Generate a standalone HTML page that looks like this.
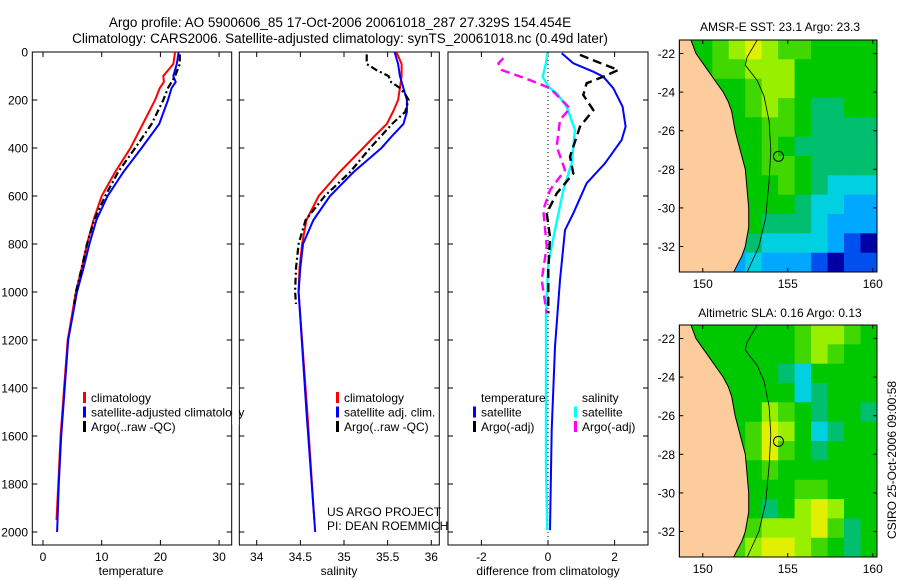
<!DOCTYPE html>
<html><head><meta charset="utf-8"><style>
body{margin:0;background:#fff;}
svg{display:block;font-family:"Liberation Sans",sans-serif;}
</style></head><body>
<svg id="fig" width="900" height="580" viewBox="0 0 900 580">
<text x="340" y="27" font-size="13.5" text-anchor="middle">Argo profile: AO 5900606_85 17-Oct-2006 20061018_287 27.329S 154.454E</text>
<text x="340" y="43" font-size="13.5" text-anchor="middle">Climatology: CARS2006. Satellite-adjusted climatology: synTS_20061018.nc (0.49d later)</text>
<text x="131" y="575" font-size="12" text-anchor="middle">temperature</text>
<text x="339" y="575" font-size="12" text-anchor="middle">salinity</text>
<text x="548" y="575" font-size="12" text-anchor="middle">difference from climatology</text>
<text x="327" y="516" font-size="12">US ARGO PROJECT</text>
<text x="327" y="530" font-size="12">PI: DEAN ROEMMICH</text>
<text x="780" y="31" font-size="12" text-anchor="middle">AMSR-E SST: 23.1 Argo: 23.3</text>
<text x="780" y="317" font-size="12" text-anchor="middle">Altimetric SLA: 0.16 Argo: 0.13</text>
<text x="0" y="0" font-size="12" text-anchor="middle" transform="translate(896,460) rotate(-90)">CSIRO 25-Oct-2006 09:00:58</text>
</svg>
<script>
// ---------- profile data ----------
const depthClim = [0,50,100,125,150,200,300,400,500,600,700,800,900,1000,1200,1400,1600,1800,1950];
const tempClim  = [22.5,22.2,20.5,20.6,19.9,19.1,17.0,14.9,12.3,10.0,8.6,7.5,6.6,5.6,4.2,3.6,3.0,2.6,2.3];
const depthSat  = [0,50,100,125,150,200,300,400,500,600,700,800,900,1000,1200,1400,1600,1800,2000];
const tempSat   = [23.1,22.8,22.2,22.6,21.9,21.3,19.8,16.8,13.7,11.0,9.1,7.9,6.9,5.8,4.3,3.7,3.1,2.7,2.4];
const depthArgo = [10,50,100,150,200,300,400,500,600,700,800,900,1000,1050];
const tempArgo  = [23.3,23.3,22.5,21.3,20.5,18.5,15.7,12.8,10.6,8.7,7.5,6.6,5.6,5.3];

const depthSalClim = [0,50,100,150,200,250,300,350,400,500,600,700,800,900,1000,1500,1950];
const salClim   = [35.60,35.66,35.66,35.64,35.62,35.56,35.49,35.35,35.22,34.95,34.71,34.57,34.52,34.49,34.48,34.58,34.66];
const depthSalSat = [0,50,100,150,200,250,300,350,400,500,600,700,800,900,1000,1500,2000];
const salSat    = [35.58,35.62,35.64,35.68,35.72,35.72,35.68,35.55,35.43,35.11,34.84,34.65,34.53,34.50,34.48,34.57,34.67];
const depthSalArgo = [10,50,75,100,125,150,175,200,250,300,400,500,600,700,800,900,1000,1050];
const salArgo   = [35.26,35.26,35.37,35.51,35.54,35.64,35.70,35.74,35.70,35.55,35.30,35.07,34.78,34.56,34.48,34.45,34.44,34.45];

const depthDT = [5,47,82,103,151,228,311,367,464,547,672,742,950,1228,1575,1992];
const diffTempSat = [0.41,0.76,1.36,1.66,1.96,2.24,2.33,2.21,1.71,1.16,0.76,0.51,0.36,0.21,0.11,0.06];
const depthDS = [5,47,103,144,172,228,325,464,575,742,880,1089,1714,1992];
const diffSalSat = [-0.02,-0.06,-0.16,0.01,0.26,0.56,0.81,0.71,0.46,0.21,0.01,-0.06,-0.06,-0.02];
const depthDTA = [12,40,75,103,130,179,242,311,436,506,589,672,769,908,1089];
const diffTempArgo = [0.96,1.46,2.11,1.66,1.16,1.06,1.36,0.96,0.66,0.76,0.26,-0.04,0.06,0.01,0.01];
const depthDSA = [26,47,75,117,151,235,283,394,492,575,658,811,950,1089];
const diffSalArgo = [-1.34,-1.49,-1.39,-0.54,0.06,0.66,0.36,0.26,0.51,0.06,-0.14,-0.04,-0.19,-0.04];

const depthTicks = [0,200,400,600,800,1000,1200,1400,1600,1800,2000];
const tempTicks = [0,10,20,30];
const salTicks = [34,34.5,35,35.5,36];
const diffTicks = [-2,0,2];

// ---------- map data (colour class 0=dark blue .. 9=orange) ----------
const sstRows = [
 [5,5,6,7,8,7,6,6,5,5,5,5],
 [5,5,6,6,7,7,7,5,5,5,5,5],
 [5,5,5,5,6,7,7,5,5,5,5,5],
 [5,5,5,5,6,7,6,5,4,4,5,5],
 [5,5,5,5,5,6,6,5,4,4,4,4],
 [5,5,5,5,5,6,5,4,4,4,4,4],
 [5,5,5,5,5,6,6,5,4,4,4,4],
 [5,5,5,5,5,5,6,5,4,3,3,3],
 [5,5,5,5,5,5,5,4,3,3,2,2],
 [5,5,5,5,5,4,4,4,3,2,2,2],
 [5,5,5,2,4,3,3,3,3,2,1,0],
 [5,5,5,2,3,2,2,2,1,0,1,1]];
const slaRows = [
 [5,5,5,5,5,5,5,6,7,7,6,5],
 [5,5,5,5,5,5,5,6,7,6,5,5],
 [5,5,5,5,5,5,4,3,5,5,5,5],
 [5,5,5,5,5,5,5,3,4,5,5,5],
 [5,5,5,5,5,7,6,5,4,5,5,4],
 [5,5,5,5,6,8,7,5,3,4,5,5],
 [5,5,5,5,6,8,6,5,4,5,5,5],
 [5,5,5,5,5,6,5,5,5,5,5,5],
 [5,5,5,5,5,5,5,6,6,5,5,5],
 [5,5,5,5,5,4,5,7,8,7,5,5],
 [5,5,5,5,6,7,7,7,8,6,4,5],
 [5,5,5,6,7,8,8,7,6,5,4,5]];
const lonTicks = [150,155,160];
const latTicks = [-22,-24,-26,-28,-30,-32];
const floatLon = 154.454, floatLat = -27.329;
const coastLat = [-21.3,-22,-22.5,-23,-23.5,-24,-24.5,-25,-25.5,-26,-27,-28,-29,-30,-31,-32,-32.5,-33,-33.35];
const coastLon = [149.3,149.6,150.0,150.4,150.8,151.2,151.5,151.7,151.8,151.9,152.2,152.5,152.6,152.7,152.7,152.5,152.3,152.0,151.8];
const isoLat = [-21.3,-22.2,-22.6,-23.4,-24.2,-25.5,-27,-28.6,-30.5,-32,-33.35];
const isoLon = [153.2,152.6,152.5,153.2,153.6,153.9,154.0,153.9,153.7,153.3,152.6];

const svg = document.getElementById('fig');
const NS = 'http://www.w3.org/2000/svg';
function mk(tag, attrs){const e=document.createElementNS(NS,tag);for(const k in attrs)e.setAttribute(k,attrs[k]);svg.appendChild(e);return e;}

const yTop=52, pxPerM=0.24, yBot=545;
const yD = d => yTop + d*pxPerM;

const panels = [
 {name:'temperature', x0:32.3, x1:231.7, v0:0, px:5.87, o:43, ticks:tempTicks, lbl:true},
 {name:'salinity', x0:239.3, x1:439.3, v0:34, px:87.3, o:256.7, ticks:salTicks, lbl:false},
 {name:'difference', x0:448, x1:648, v0:0, px:33.3, o:548, ticks:diffTicks, lbl:false}
];
panels.forEach(p=>{ p.xs = v => p.o + (v-p.v0)*p.px; });

function line(p, ds, vs, color, dash, w, name){
  const pts = ds.map((d,i)=>p.xs(vs[i]).toFixed(1)+','+yD(d).toFixed(1)).join(' ');
  const e = mk('polyline',{points:pts,fill:'none',stroke:color,'stroke-width':w,'stroke-dasharray':dash||'none'});
  
  
}

panels.forEach(p=>{
  const r = mk('rect',{x:p.x0,y:yTop,width:p.x1-p.x0,height:yBot-yTop,fill:'none',stroke:'#000','stroke-width':1});
  
  
  p.ticks.forEach(t=>{
    const x=p.xs(t);
    mk('line',{x1:x,y1:yBot,x2:x,y2:yBot-5,stroke:'#000'});
    mk('line',{x1:x,y1:yTop,x2:x,y2:yTop+5,stroke:'#000'});
    const tx = mk('text',{x:x,y:yBot+16,'font-size':12,'text-anchor':'middle'});
    tx.textContent = t;
    
    
  });
  depthTicks.forEach(d=>{
    mk('line',{x1:p.x0,y1:yD(d),x2:p.x0+5,y2:yD(d),stroke:'#000'});
    mk('line',{x1:p.x1,y1:yD(d),x2:p.x1-5,y2:yD(d),stroke:'#000'});
    if(p.lbl){
      const tx = mk('text',{x:28,y:yD(d)+4.5,'font-size':12,'text-anchor':'end'});
      tx.textContent = d;
      
      
    }
  });
});
const [pT,pS,pD]=panels;
const zl = mk('line',{x1:pD.xs(0),y1:yTop,x2:pD.xs(0),y2:yBot,stroke:'#000','stroke-dasharray':'1,3'});



line(pT, depthClim, tempClim, '#f00', null, 2, 'temp-climatology-line');
line(pT, depthSat, tempSat, '#00f', null, 2, 'temp-satellite-line');
line(pT, depthArgo, tempArgo, '#000', '7,3,2,3', 2.2, 'temp-argo-line');
line(pS, depthSalClim, salClim, '#f00', null, 2, 'sal-climatology-line');
line(pS, depthSalSat, salSat, '#00f', null, 2, 'sal-satellite-line');
line(pS, depthSalArgo, salArgo, '#000', '7,3,2,3', 2.2, 'sal-argo-line');
line(pD, depthDT, diffTempSat, '#00f', null, 2, 'diff-temp-satellite-line');
line(pD, depthDS, diffSalSat, '#0ff', null, 2.4, 'diff-sal-satellite-line');
line(pD, depthDTA, diffTempArgo, '#000', '9,5', 2.4, 'diff-temp-argo-line');
line(pD, depthDSA, diffSalArgo, '#f0f', '9,5', 2.4, 'diff-sal-argo-line');

function legend(x, y, items, prefix){
  items.forEach((it,i)=>{
    const yy = y + i*14.5;
    if(it.c){
      const b = mk('rect',{x:x,y:yy-10,width:3,height:11,fill:it.c});
      
      
    }
    const t = mk('text',{x:x+8,y:yy,'font-size':12});
    t.textContent = it.t;
    
    
  });
}
legend(83,402,[{c:'#f00',t:'climatology'},{c:'#00f',t:'satellite-adjusted climatology'},{c:'#000',t:'Argo(..raw -QC)'}],'temperature');
legend(336,402,[{c:'#f00',t:'climatology'},{c:'#00f',t:'satellite adj. clim.'},{c:'#000',t:'Argo(..raw -QC)'}],'salinity');
legend(473,402,[{t:'temperature'},{c:'#00f',t:'satellite'},{c:'#000',t:'Argo(-adj)'}],'diff-temperature');
legend(574,402,[{t:'salinity'},{c:'#0ff',t:'satellite'},{c:'#f0f',t:'Argo(-adj)'}],'diff-salinity');
mk('rect',{x:232.2,y:385,width:6.6,height:40,fill:'#fff'});

// ---------- maps ----------
const cmap = ['#0000a8','#0050f0','#00a8ff','#00d0e0','#00c070','#00c800','#40d800','#98f000','#e0f000','#ffd000'];
const mx0=679.3, mx1=877, lon0=148.62, lonPx=17;
const mxs = lon => mx0 + (lon-lon0)*lonPx;
const latTop=-21.3, latPx=19.3;
function drawMap(rows, top, name){
  const my = lat => top + (latTop-lat)*latPx;
  const h = 232;
  const cw = (mx1-mx0)/rows[0].length, ch = h/rows.length;
  const clipId = name+'-clip';
  const cp = mk('clipPath',{id:clipId});
  const cr = document.createElementNS(NS,'rect');
  cr.setAttribute('x',mx0);cr.setAttribute('y',top);cr.setAttribute('width',mx1-mx0);cr.setAttribute('height',h);
  cp.appendChild(cr);
  const g = mk('g',{'clip-path':'url(#'+clipId+')'});
  
  
  rows.forEach((row,r)=>row.forEach((v,c)=>{
    const cell = document.createElementNS(NS,'rect');
    cell.setAttribute('x',(mx0+c*cw).toFixed(1));cell.setAttribute('y',(top+r*ch).toFixed(1));
    cell.setAttribute('width',(cw+0.6).toFixed(1));cell.setAttribute('height',(ch+0.6).toFixed(1));
    cell.setAttribute('fill',cmap[v]);
    
    
    g.appendChild(cell);
  }));
  let land = 'M'+mx0+','+top;
  coastLat.forEach((la,i)=>{ land += ' L'+mxs(coastLon[i]).toFixed(1)+','+my(la).toFixed(1); });
  land += ' L'+mx0+','+(top+h)+' Z';
  const lp = document.createElementNS(NS,'path');
  lp.setAttribute('d',land);lp.setAttribute('fill','#fccc9c');lp.setAttribute('stroke','#000');lp.setAttribute('stroke-width','1');
  
  
  g.appendChild(lp);
  const iso = document.createElementNS(NS,'polyline');
  iso.setAttribute('points', isoLat.map((la,i)=>mxs(isoLon[i]).toFixed(1)+','+my(la).toFixed(1)).join(' '));
  iso.setAttribute('fill','none');iso.setAttribute('stroke','#000');iso.setAttribute('stroke-width','0.8');
  
  
  g.appendChild(iso);
  const fl = mk('circle',{cx:mxs(floatLon),cy:my(floatLat),r:5,fill:'none',stroke:'#000','stroke-width':1});
  
  
  const fr = mk('rect',{x:mx0,y:top,width:mx1-mx0,height:h,fill:'none',stroke:'#000'});
  
  
  lonTicks.forEach(lo=>{
    const x=mxs(lo);
    mk('line',{x1:x,y1:top+h,x2:x,y2:top+h-4,stroke:'#000'});
    mk('line',{x1:x,y1:top,x2:x,y2:top+4,stroke:'#000'});
    const t = mk('text',{x:x,y:top+h+16,'font-size':12,'text-anchor':'middle'});
    t.textContent = lo;
    
    
  });
  latTicks.forEach(la=>{
    const y=my(la);
    mk('line',{x1:mx0,y1:y,x2:mx0+4,y2:y,stroke:'#000'});
    mk('line',{x1:mx1,y1:y,x2:mx1-4,y2:y,stroke:'#000'});
    const t = mk('text',{x:675,y:y+4.5,'font-size':12,'text-anchor':'end'});
    t.textContent = la;
    
    
  });
}
drawMap(sstRows, 40, 'sst');
drawMap(slaRows, 325, 'sla');
</script>
</body></html>
